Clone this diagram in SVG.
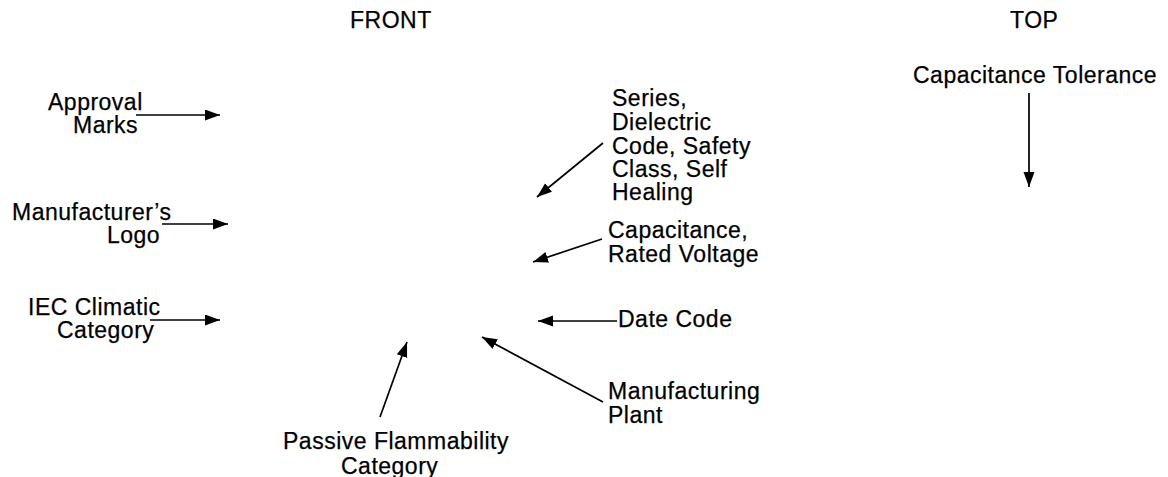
<svg xmlns="http://www.w3.org/2000/svg" width="1168" height="477" viewBox="0 0 1168 477">
  <style>
    text { font-family: "Liberation Sans", Arial, sans-serif; font-size: 23px; letter-spacing: 0.5px; fill: #000; stroke: #000; stroke-width: 0.25; }
    .lead { stroke: #000; stroke-width: 1.7; fill: none; marker-end: url(#head); }
  </style>
  <defs>
    <marker id="head" markerUnits="userSpaceOnUse" markerWidth="16" markerHeight="12" refX="15" refY="5.5" orient="auto">
      <path d="M0,0 L15,5.5 L0,11 z" fill="#000"/>
    </marker>
  </defs>
  <rect width="1168" height="477" fill="#fff"/>

  <!-- view titles -->
  <g id="title-front"><text x="350" y="28">FRONT</text></g>
  <g id="title-top"><text x="1010" y="28">TOP</text></g>

  <!-- front-view callouts -->
  <g id="approval-marks">
    <text x="48" y="110">Approval</text>
    <text x="73" y="133">Marks</text>
  </g>
  <g id="manufacturer-logo">
    <text x="12" y="220">Manufacturer’s</text>
    <text x="107" y="243">Logo</text>
  </g>
  <g id="iec-climatic">
    <text x="28" y="315">IEC Climatic</text>
    <text x="57" y="338">Category</text>
  </g>
  <g id="series-code">
    <text x="612" y="106">Series,</text>
    <text x="612" y="130">Dielectric</text>
    <text x="612" y="154">Code, Safety</text>
    <text x="612" y="177">Class, Self</text>
    <text x="612" y="200">Healing</text>
  </g>
  <g id="capacitance-voltage">
    <text x="608" y="238">Capacitance,</text>
    <text x="608" y="262">Rated Voltage</text>
  </g>
  <g id="date-code"><text x="618" y="327">Date Code</text></g>
  <g id="manufacturing-plant">
    <text x="608" y="399">Manufacturing</text>
    <text x="608" y="423">Plant</text>
  </g>
  <g id="flammability">
    <text x="283" y="449">Passive Flammability</text>
    <text x="341" y="474">Category</text>
  </g>

  <!-- top-view callout -->
  <g id="capacitance-tolerance"><text x="913" y="83">Capacitance Tolerance</text></g>

  <!-- leader arrows -->
  <g id="connectors">
    <line class="lead" x1="136" y1="115" x2="220" y2="115"/>
    <line class="lead" x1="162" y1="224" x2="228" y2="224"/>
    <line class="lead" x1="150" y1="320" x2="220" y2="320"/>
    <line class="lead" x1="603" y1="143" x2="537" y2="197"/>
    <line class="lead" x1="602" y1="239" x2="533" y2="262"/>
    <line class="lead" x1="617" y1="321" x2="538" y2="321"/>
    <line class="lead" x1="603" y1="402" x2="482" y2="337"/>
    <line class="lead" x1="380" y1="417" x2="407" y2="342"/>
    <line class="lead" x1="1029" y1="93" x2="1029" y2="187"/>
  </g>
</svg>
